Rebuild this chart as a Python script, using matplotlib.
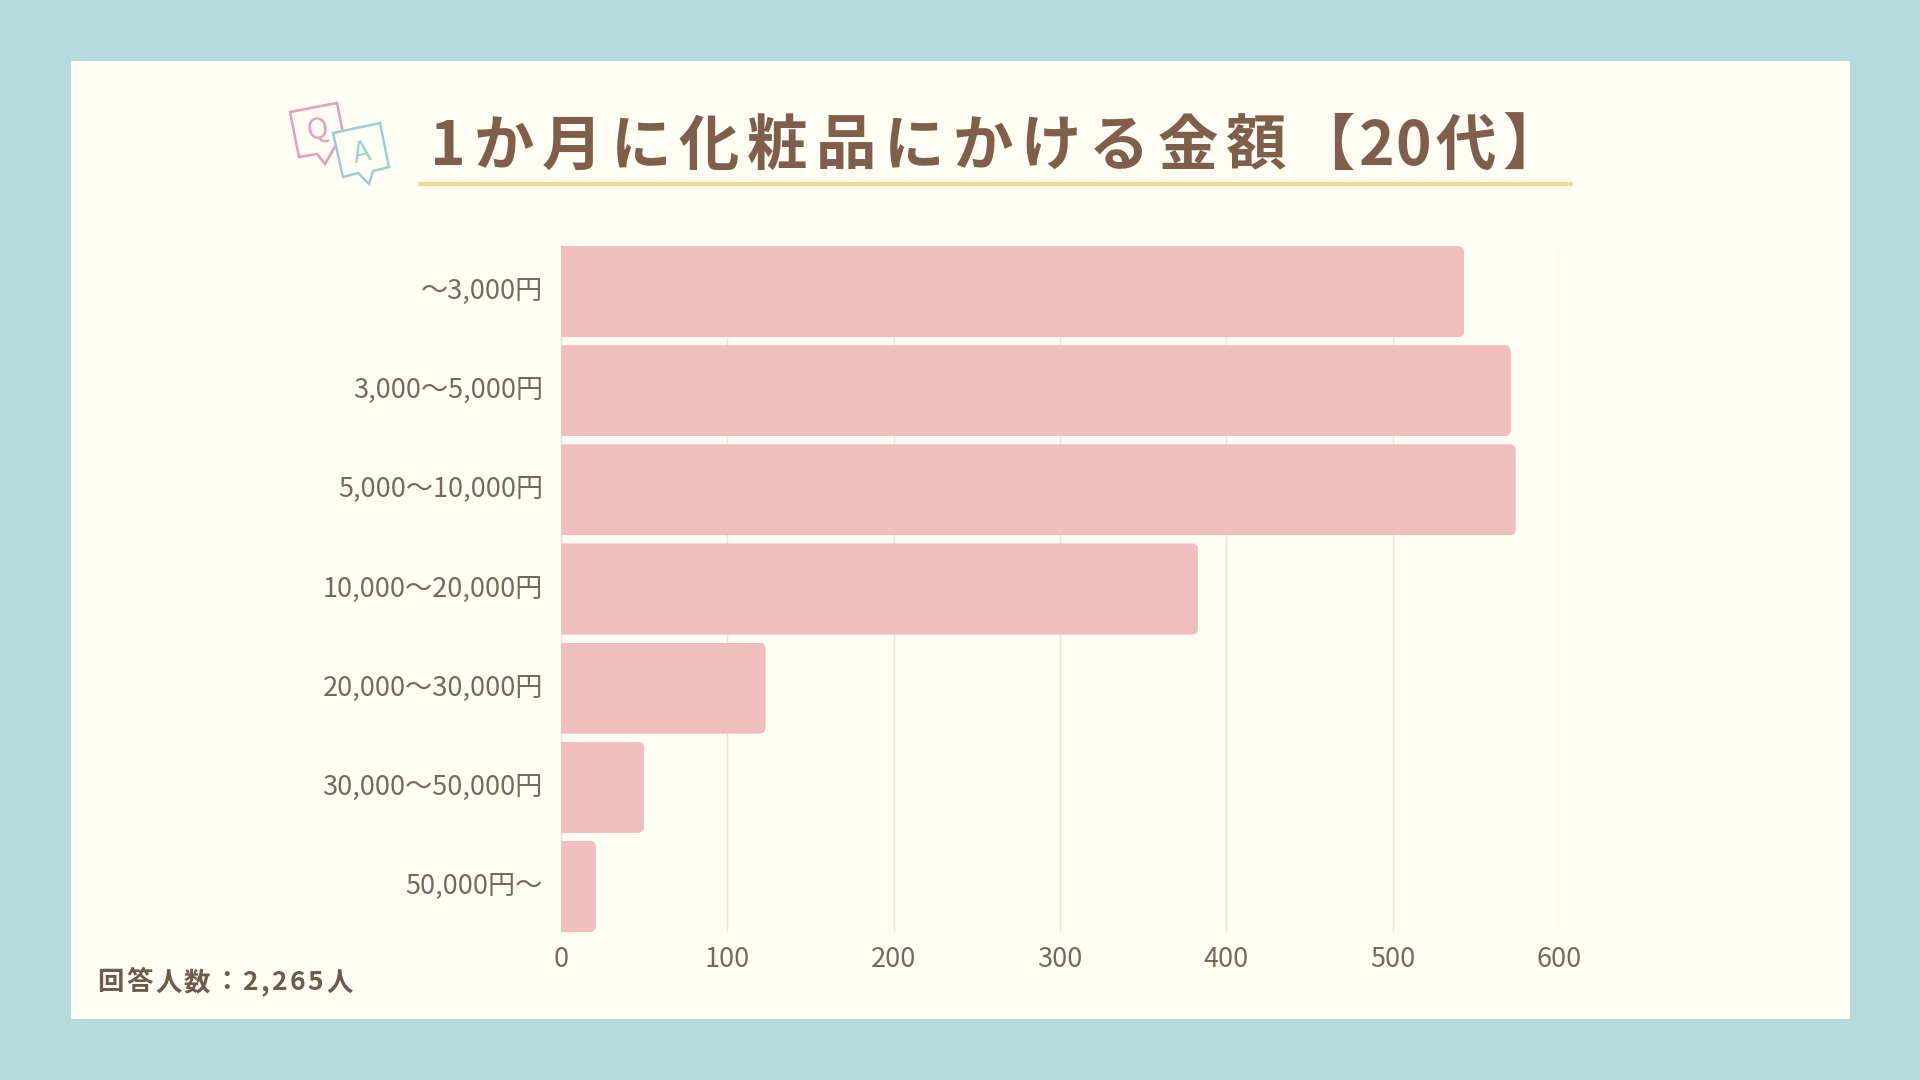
import matplotlib

matplotlib.use("Agg")
from matplotlib import pyplot as plt
from matplotlib.patches import FancyBboxPatch, Polygon, Rectangle

plt.rcParams["font.family"] = ["Noto Sans CJK JP", "DejaVu Sans"]

categories = [
    "〜3,000円",
    "3,000〜5,000円",
    "5,000〜10,000円",
    "10,000〜20,000円",
    "20,000〜30,000円",
    "30,000〜50,000円",
    "50,000円〜",
]
counts = [543, 571, 574, 383, 123, 50, 21]
x_ticks = [0, 100, 200, 300, 400, 500, 600]
title_main = "1か月に化粧品にかける金額"
title_open = "【"
title_digits = "20"
title_end = "代】"
footer = "回答人数：2,265人"

BORDER = "#b5d9dc"
PANEL = "#fffdf4"
BAR = "#f0bfbd"
GRID = "#e8e5da"
TICK_TEXT = "#77685a"
TITLE_TEXT = "#7f5f4b"
FOOTER_TEXT = "#6f5b4d"
UNDERLINE = "#f5d98e"
PINK = "#e09fba"
TEAL = "#9dcfcf"


def spaced_text(ax, x, y, text, tracking, **kwargs):
    """Pose le texte caractère par caractère, matplotlib n'a pas de letter-spacing."""
    renderer = ax.figure.canvas.get_renderer()
    for char in text:
        ax.text(x, y, char, ha="left", va="center", **kwargs)
        # largeur d'avance: on mesure avec deux caractères pleins autour
        probe = ax.text(0, 0, "田" + char + "田", **kwargs)
        base = ax.text(0, 0, "田田", **kwargs)
        advance = (
            probe.get_window_extent(renderer).width
            - base.get_window_extent(renderer).width
        )
        probe.remove()
        base.remove()
        x += advance + tracking
    return x


fig = plt.figure(figsize=(19.2, 10.8), dpi=100, facecolor=BORDER)

# Calque de fond en pixels (panneau, titre, icônes)
bg = fig.add_axes([0, 0, 1, 1], zorder=0)
bg.set_xlim(0, 1920)
bg.set_ylim(1080, 0)
bg.axis("off")
bg.add_patch(Rectangle((71, 61), 1779, 958, facecolor=PANEL, edgecolor="none"))

# Icône Q / A
q_bubble = [(290, 112), (337, 103), (343, 133), (333, 150), (325, 164), (317, 154), (299, 157)]
a_bubble = [(333, 133), (380, 123), (389, 167), (373, 171), (369, 184), (358, 173), (343, 177)]
bg.add_patch(Polygon(q_bubble, closed=True, facecolor=PANEL, edgecolor=PINK, lw=1.8))
bg.add_patch(Polygon(a_bubble, closed=True, facecolor=PANEL, edgecolor=TEAL, lw=1.8))
bg.text(317, 130, "Q", color=PINK, fontsize=21, rotation=11, ha="center", va="center")
bg.text(362, 153, "A", color=TEAL, fontsize=21, rotation=11, ha="center", va="center")

# Titre: les chiffres sont plus serrés que le reste
title_style = dict(fontsize=43.5, fontweight="bold", color=TITLE_TEXT)
cursor = spaced_text(bg, 430, 147, title_main, 8.0, **title_style)
cursor = spaced_text(bg, cursor, 147, title_open, 4.0, **title_style)
cursor = spaced_text(bg, cursor, 147, title_digits, 1.0, **title_style)
spaced_text(bg, cursor + 4, 147, title_end, 6.0, **title_style)
bg.plot([420, 1571], [184, 184], color=UNDERLINE, lw=3, solid_capstyle="round")
spaced_text(bg, 97, 983, footer, 2.6, fontsize=19, fontweight="bold", color=FOOTER_TEXT)

# Graphique
ax = fig.add_axes(
    [561 / 1920, 1 - 932 / 1080, (1559 - 561) / 1920, (932 - 246) / 1080], zorder=1
)
ax.patch.set_alpha(0)
positions = list(range(len(categories)))
bars = ax.barh(positions, counts, height=0.92, color=BAR, zorder=2)
ax.set_xlim(0, 600)
ax.set_ylim(6.46, -0.46)

# Coins arrondis à droite seulement
for bar in bars:
    clip = FancyBboxPatch(
        (-20, bar.get_y()),
        bar.get_width() + 20,
        bar.get_height(),
        boxstyle="round,pad=0,rounding_size=4",
        mutation_aspect=0.92 / 91 * 1.663,
        transform=ax.transData,
    )
    bar.set_clip_path(clip)

ax.set_xticks(x_ticks)
ax.set_yticks(positions)
ax.set_yticklabels(categories, va="center")
ax.tick_params(axis="x", length=0, pad=10, labelsize=19.5, labelcolor=TICK_TEXT)
ax.tick_params(axis="y", length=0, pad=13, labelsize=19.5, labelcolor=TICK_TEXT)
ax.grid(axis="x", color=GRID, lw=1, zorder=1)
ax.set_axisbelow(True)
for side in ["top", "right", "bottom"]:
    ax.spines[side].set_visible(False)
ax.spines["left"].set_color(GRID)
ax.spines["left"].set_linewidth(1)
ax.spines["left"].set_zorder(1)

fig.savefig("out.png", dpi=100, facecolor=BORDER)
